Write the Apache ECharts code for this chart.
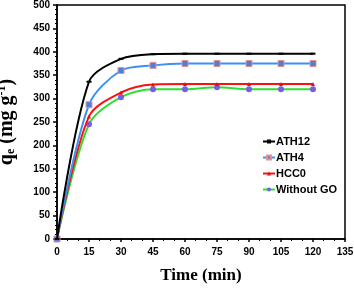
<!DOCTYPE html>
<html><head><meta charset="utf-8">
<script src="https://cdn.jsdelivr.net/npm/echarts@6/dist/echarts.min.js"></script>
<style>html,body{margin:0;padding:0;background:#fff}#c{width:354px;height:288px}</style>
</head><body><div id="c"></div>
<script>
const times = [0, 15, 30, 45, 60, 75, 90, 105, 120];
const ath12 = [0, 336, 385, 395, 396, 396, 396, 396, 396];
const ath4 = [0, 287, 360, 371, 375, 375, 375, 375, 375];
const hcc0 = [0, 262, 313, 330, 331, 331, 331, 331, 331];
const withoutGO = [0, 245, 303, 320, 320, 324, 320, 320, 320];
const seriesNames = ['ATH12', 'ATH4', 'HCC0', 'Without GO'];

const pair = a => times.map((t, i) => [t, a[i]]);
const chart = echarts.init(document.getElementById('c'));
const tickFont = {fontFamily: 'Liberation Sans, Arial', fontWeight: 'bold', fontSize: 10, color: '#000'};
chart.setOption({
  animation: false,
  grid: {left: 57, right: 9, top: 5, bottom: 49, outerBoundsMode: 'none', containLabel: false,
         show: true, borderColor: '#000', borderWidth: 1.5, backgroundColor: 'transparent'},
  legend: {
    orient: 'vertical', right: 12, top: 131, itemWidth: 12, itemHeight: 5, itemGap: 5,
    textStyle: {fontFamily: 'Liberation Sans, Arial', fontWeight: 'bold', fontSize: 11, color: '#000', padding: [0,0,0,-4]},
    data: seriesNames
  },
  xAxis: {
    type: 'value', min: 0, max: 135, interval: 15,
    axisLine: {lineStyle: {color: '#000', width: 1.5}},
    axisTick: {show: true, length: 3, lineStyle: {color: '#000', width: 1.5}},
    minorTick: {show: true, splitNumber: 3, length: 2, lineStyle: {color: '#000'}},
    splitLine: {show: false},
    axisLabel: Object.assign({margin: 8}, tickFont),
    name: 'Time (min)', nameLocation: 'middle', nameGap: 28,
    nameTextStyle: {fontFamily: 'Liberation Serif, Times New Roman', fontWeight: 'bold', fontSize: 17, color: '#000'}
  },
  yAxis: {
    type: 'value', min: 0, max: 500, interval: 50,
    axisLine: {lineStyle: {color: '#000', width: 1.5}},
    axisTick: {show: true, length: 4, lineStyle: {color: '#000', width: 1.5}},
    minorTick: {show: true, splitNumber: 5, length: 2, lineStyle: {color: '#000'}},
    splitLine: {show: false},
    axisLabel: Object.assign({margin: 7}, tickFont),
    name: '{a|q}{s|e}{a| (mg g}{p|-1}{a|)}', nameLocation: 'middle', nameGap: 40, nameRotate: 90,
    nameTextStyle: {
      rich: {
        a: {fontFamily: 'Liberation Serif, Times New Roman', fontWeight: 'bold', fontSize: 20, color: '#000'},
        s: {fontFamily: 'Liberation Serif, Times New Roman', fontWeight: 'bold', fontSize: 12, color: '#000', verticalAlign: 'bottom', padding: [9,0,0,0]},
        p: {fontFamily: 'Liberation Serif, Times New Roman', fontWeight: 'bold', fontSize: 12, color: '#000', verticalAlign: 'top', padding: [0,0,9,0]}
      }
    }
  },
  series: [
    {name: 'ATH12', type: 'line', smooth: 0.3, data: pair(ath12), symbol: 'rect', symbolSize: [5, 2],
     lineStyle: {color: '#000', width: 2}, itemStyle: {color: '#000'}, z: 5},
    {name: 'ATH4', type: 'line', smooth: 0.3, data: pair(ath4), symbol: 'rect', symbolSize: 6,
     lineStyle: {color: '#3d8ff0', width: 2}, itemStyle: {color: '#4a7fe0', borderColor: '#e89090', borderWidth: 1}, z: 4},
    {name: 'HCC0', type: 'line', smooth: 0.3, data: pair(hcc0), symbol: 'triangle', symbolSize: 4,
     lineStyle: {color: '#ff1010', width: 2}, itemStyle: {color: '#e01010'}, z: 3},
    {name: 'Without GO', type: 'line', smooth: 0.3, data: pair(withoutGO), symbol: 'circle', symbolSize: 6,
     lineStyle: {color: '#2ee02e', width: 2}, itemStyle: {color: '#7a5ce8'}, z: 2}
  ]
});
</script></body></html>
